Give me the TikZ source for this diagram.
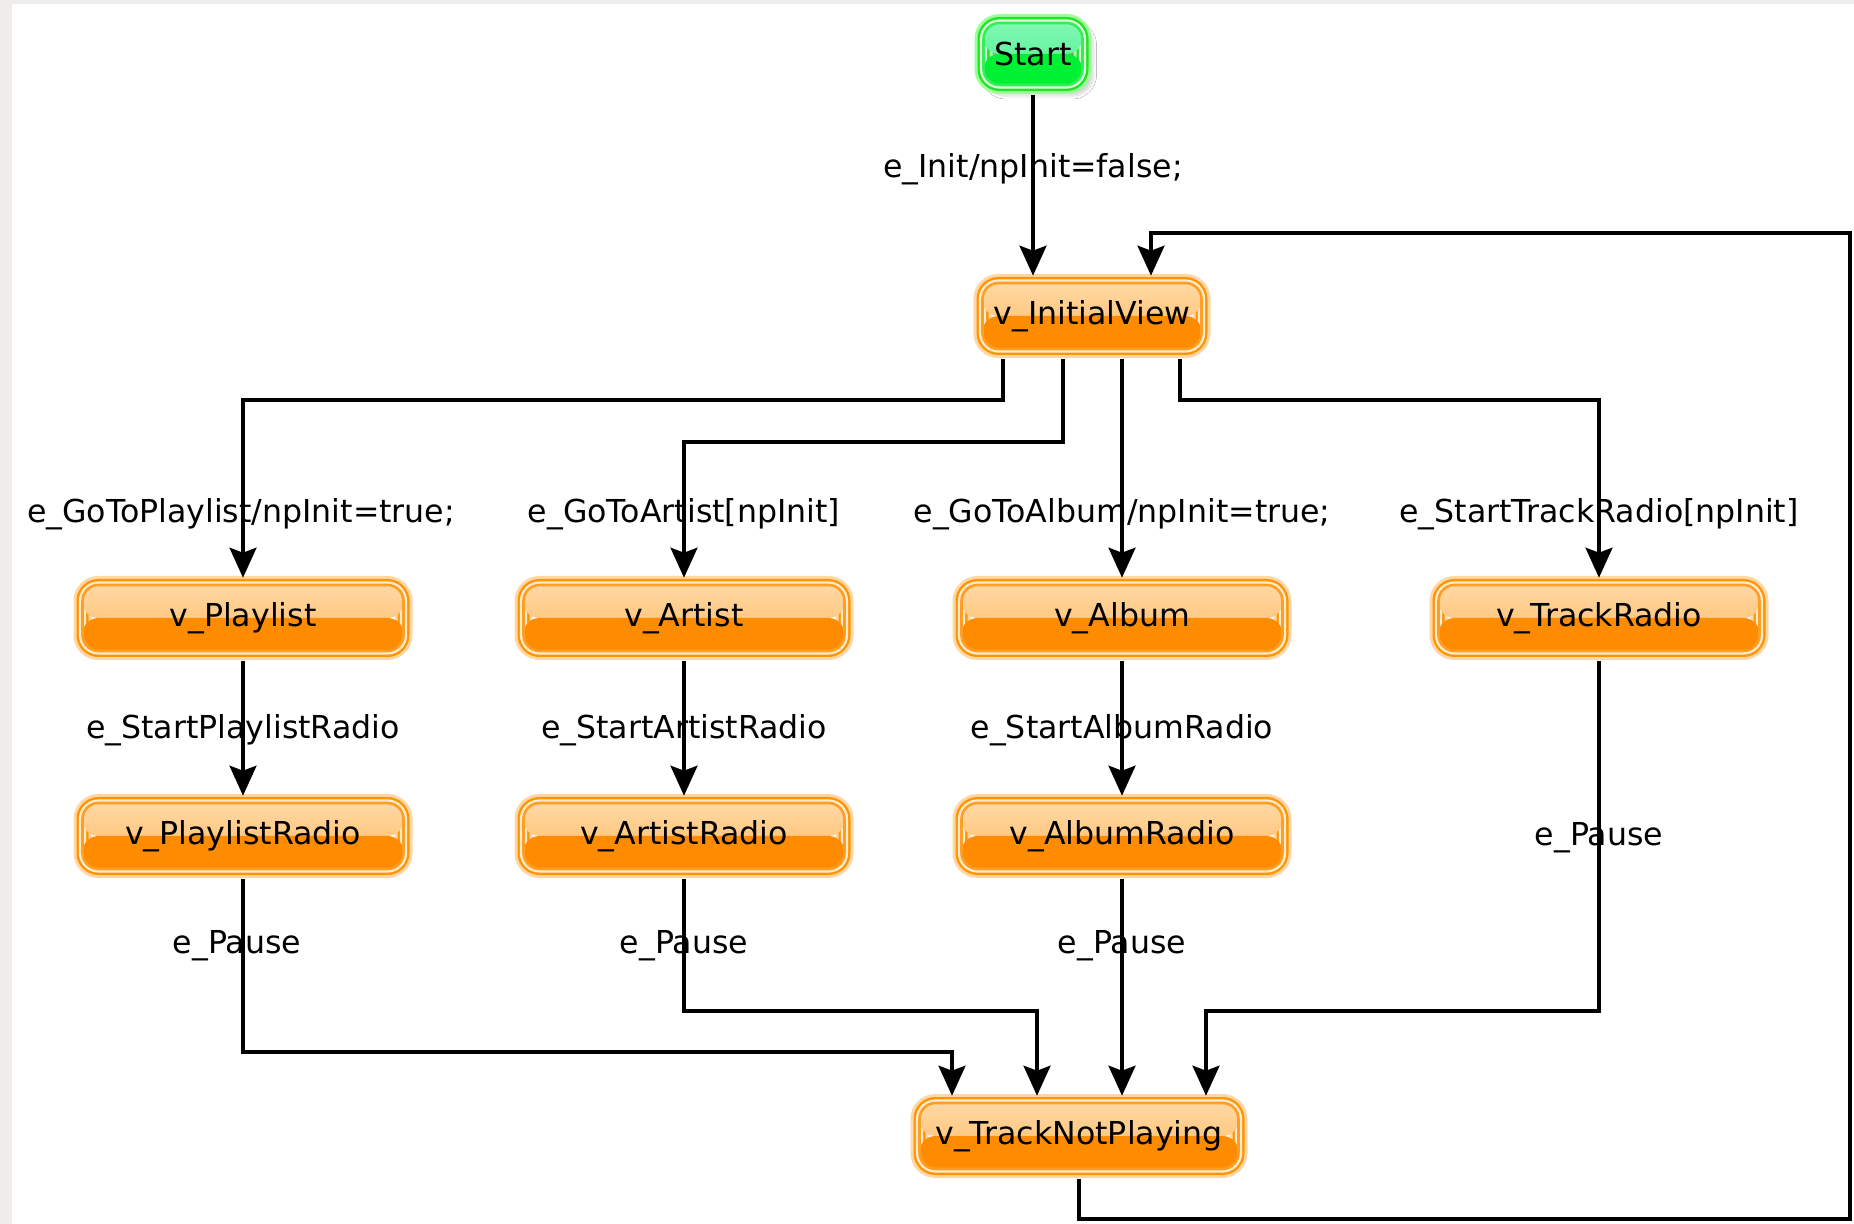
\documentclass[tikz,border=0pt]{standalone}
\usepackage{fontspec}
\setmainfont{DejaVu Sans}
\usetikzlibrary{arrows.meta,calc,shadows.blur}
\definecolor{frame}{HTML}{EEEDEB}
\definecolor{vglow}{HTML}{FFD6A6}
\definecolor{vouter}{HTML}{FF9500}
\definecolor{vgap}{HTML}{FFEBD0}
\definecolor{vinner}{HTML}{FF9E24}
\definecolor{vtopA}{HTML}{FFD8A4}
\definecolor{vtopB}{HTML}{FFBA62}
\definecolor{vbot}{HTML}{FF8C00}
\definecolor{sglow}{HTML}{9CFF9C}
\definecolor{souter}{HTML}{1EE61E}
\definecolor{sgap}{HTML}{DDFFDD}
\definecolor{sinner}{HTML}{33EE55}
\definecolor{stopA}{HTML}{80F8B4}
\definecolor{stopB}{HTML}{4CF28A}
\definecolor{sbot}{HTML}{00F034}
\newcommand{\lblfont}{\fontsize{15.8pt}{19pt}\selectfont}
\tikzset{
  vbox/.style={rounded corners=8pt, inner sep=0pt, font=\lblfont, text=black,
    minimum width=160.5pt, minimum height=33pt,
    preaction={draw=vglow, line width=9pt},
    preaction={draw=vouter, line width=6pt},
    preaction={draw=vgap, line width=3.6pt},
    draw=vinner, line width=1.3pt,
    path picture={
      \shade[top color=vtopA, bottom color=vtopB] (path picture bounding box.north west) rectangle (path picture bounding box.east);
      \fill[vbot] (path picture bounding box.west) rectangle (path picture bounding box.south east);}},
  sbox/.style={rounded corners=8pt, inner sep=0pt, font=\lblfont, text=black,
    minimum width=49.5pt, minimum height=31pt,
    blur shadow={shadow xshift=3pt, shadow yshift=-3pt, shadow blur radius=4pt, shadow opacity=45},
    preaction={draw=sglow, line width=9pt},
    preaction={draw=souter, line width=6pt},
    preaction={draw=sgap, line width=3.6pt},
    draw=sinner, line width=1.3pt,
    path picture={
      \shade[top color=stopA, bottom color=stopB] (path picture bounding box.north west) rectangle (path picture bounding box.east);
      \fill[sbot] (path picture bounding box.west) rectangle (path picture bounding box.south east);}},
  conn/.style={draw=black, line width=1.6pt, -{Stealth[length=15pt, width=13.5pt, inset=2.5pt]},
    shorten <=4.5pt, shorten >=3pt},
  lbl/.style={font=\lblfont, text=black, inner sep=0pt}
}
\begin{document}
\begin{tikzpicture}[x=0.5pt, y=-0.5pt]
\useasboundingbox (0,0) rectangle (1854,1224);
\fill[frame] (0,0) rectangle (1854,1224);
\fill[white] (12,4) rectangle (1854,1224);

% nodes
\node[sbox] (start) at (1033,54) {Start};
\node[vbox, minimum width=109.5pt] (iv) at (1092,316) {v\_InitialView};
\node[vbox] (pl) at (243,618) {v\_Playlist};
\node[vbox] (ar) at (684,618) {v\_Artist};
\node[vbox] (al) at (1122,618) {v\_Album};
\node[vbox] (tr) at (1599,618) {v\_TrackRadio};
\node[vbox] (plr) at (243,836) {v\_PlaylistRadio};
\node[vbox] (arr) at (684,836) {v\_ArtistRadio};
\node[vbox] (alr) at (1122,836) {v\_AlbumRadio};
\node[vbox, minimum width=159.5pt] (tnp) at (1079,1136) {v\_TrackNotPlaying};
\coordinate (ret) at (1850,233);

% connectors
\draw[conn] (start.south) -- (start.south |- iv.north);
\draw[conn] ($(iv.south)+(-89,0)$) |- (pl.north |- 0,400) -- (pl.north);
\draw[conn] ($(iv.south)+(-29,0)$) |- (ar.north |- 0,442) -- (ar.north);
\draw[conn] ($(iv.south)+(30,0)$) -- (al.north);
\draw[conn] ($(iv.south)+(88,0)$) |- (tr.north |- 0,400) -- (tr.north);
\draw[conn] (pl.south) -- (plr.north);
\draw[conn] (ar.south) -- (arr.north);
\draw[conn] (al.south) -- (alr.north);
\draw[conn] (plr.south) |- ($(tnp.north |- 0,1052)+(-127,0)$) -- ($(tnp.north)+(-127,0)$);
\draw[conn] (arr.south) |- ($(tnp.north |- 0,1011)+(-42,0)$) -- ($(tnp.north)+(-42,0)$);
\draw[conn] (alr.south) -- (alr.south |- tnp.north);
\draw[conn] (tr.south) |- ($(tnp.north |- 0,1011)+(127,0)$) -- ($(tnp.north)+(127,0)$);
\draw[conn] (tnp.south) |- (ret |- 0,1219) -- (ret) -| ($(iv.north)+(59,0)$);

% labels
\node[lbl] (l0) at (1033,169) {e\_Init/npInit=false;};
\node[lbl] (l1) at (241,514) {e\_GoToPlaylist/npInit=true;};
\node[lbl] (l2) at (684,514) {e\_GoToArtist[npInit]};
\node[lbl] (l3) at (1122,514) {e\_GoToAlbum/npInit=true;};
\node[lbl] (l4) at (1599,514) {e\_StartTrackRadio[npInit]};
\node[lbl] (l5) at (243,730) {e\_StartPlaylistRadio};
\node[lbl] (l6) at (684,730) {e\_StartArtistRadio};
\node[lbl] (l7) at (1122,730) {e\_StartAlbumRadio};
\node[lbl] (l8) at (1599,838) {e\_Pause};
\node[lbl] (l9) at (237,946) {e\_Pause};
\node[lbl] (l10) at (684,946) {e\_Pause};
\node[lbl] (l11) at (1122,946) {e\_Pause};
\end{tikzpicture}
\end{document}
